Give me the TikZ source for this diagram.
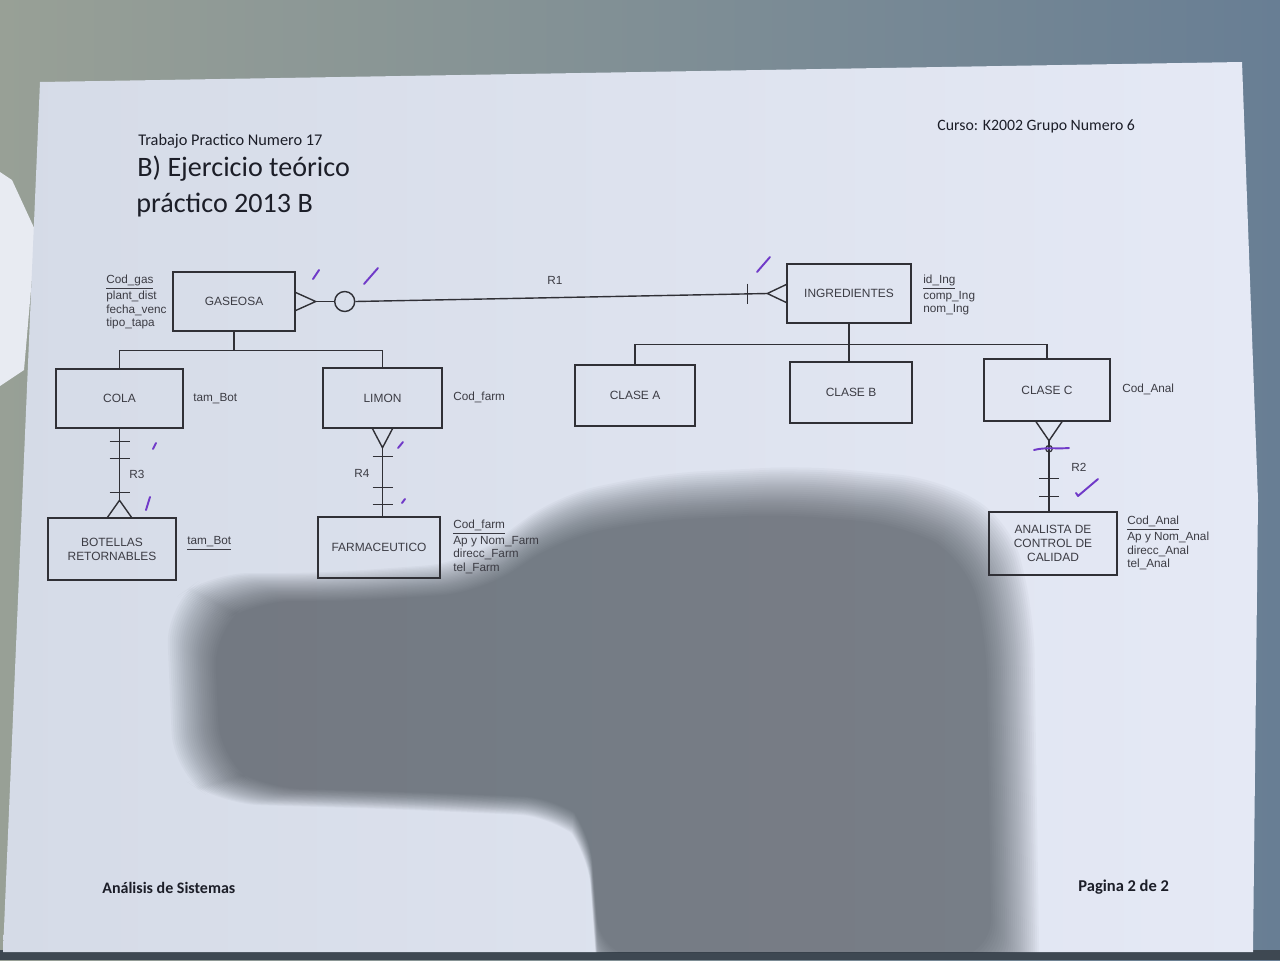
\documentclass[tikz,border=0pt]{standalone}
\usepackage{fontspec}
\setmainfont{Liberation Sans}
\newfontfamily\hdfont{Carlito}
\usetikzlibrary{calc}

\definecolor{bgL}{RGB}{152,160,150}
\definecolor{bgR}{RGB}{104,126,148}
\definecolor{paperL}{RGB}{213,219,231}
\definecolor{paperR}{RGB}{229,233,245}
\definecolor{ink}{RGB}{48,48,54}
\definecolor{txt}{RGB}{60,60,68}
\definecolor{hd}{RGB}{28,30,40}
\definecolor{pen}{RGB}{112,58,200}
\definecolor{shadowc}{RGB}{48,56,62}
\definecolor{floorc}{RGB}{62,72,82}
\definecolor{sheet}{RGB}{232,235,242}

\newcommand\dgfont{\fontsize{6.7}{7.7}\selectfont}
\newcommand\entfont{\fontsize{6.8}{8}\selectfont}

\tikzset{
  entbox/.style 2 args={draw=ink, line width=0.8pt, minimum width=#1*0.02cm,
    minimum height=#2*0.02cm, inner sep=0pt, align=center, font=\entfont, text=txt},
  attr/.style={anchor=west, inner sep=0pt, align=left, font=\dgfont, text=txt},
  rel/.style={draw=ink, line width=0.8pt},
  rlabel/.style={inner sep=0pt, font=\dgfont, text=txt},
  hdtext/.style={anchor=base west, inner sep=0pt, text=hd},
  penmark/.style={draw=pen, line width=1.1pt, line cap=round, line join=round},
}

% outline of the hand shadow, relative to (600,720)
\newcommand\shadowshape{%
  (-422,-110) -- (-380,-140) -- (-270,-140) -- (-130,-150) -- (-40,-215)
  -- (60,-235) -- (200,-242) -- (330,-230) -- (400,-190) -- (422,-100)
  -- (428,280) -- (0,280) -- (-12,120) -- (-40,92) -- (-200,85)
  -- (-370,80) -- (-415,50) -- cycle}

\begin{document}
\begin{tikzpicture}[x=0.02cm, y=-0.02cm]
\useasboundingbox (0,0) rectangle (1280,960);

% cloth underneath
\shade[left color=bgL, right color=bgR] (0,0) rectangle (1280,960);
\fill[floorc] (0,950) rectangle (1280,960);

% second sheet peeking out on the left
\fill[sheet] (0,172) -- (12,180) -- (36,232) -- (24,370) -- (0,386) -- cycle;

% the printed page
\coordinate (pA) at (40,82);
\coordinate (pB) at (1242,62);
\coordinate (pC) at (1258,500);
\coordinate (pD) at (1253,952);
\coordinate (pE) at (3,952);
\shade[left color=paperL, right color=paperR] (pA) -- (pB) -- (pC) -- (pD) -- (pE) -- cycle;

% soft shadow across the lower half of the page
\begin{scope}
  \clip (pA) -- (pB) -- (pC) -- (pD) -- (pE) -- cycle;
  \foreach \d in {12,10,...,-36}{
    \pgfmathsetmacro\sx{1+\d/425}
    \pgfmathsetmacro\sy{1+\d/240}
    \begin{scope}[shift={(600,720)}, xscale=\sx, yscale=\sy]
      \fill[shadowc, fill opacity=0.031, rounded corners=0.8cm] \shadowshape;
    \end{scope}
  }
\end{scope}

% header and footer
\node[hdtext, font=\hdfont\fontsize{9.3}{10}\selectfont] (tp) at (138,145) {Trabajo Practico Numero 17};
\node[hdtext, font=\hdfont\fontsize{16}{18}\selectfont] (t1) at (137,176) {B) Ejercicio teórico};
\node[hdtext, font=\hdfont\fontsize{16}{18}\selectfont] (t2) at (136,212) {práctico 2013 B};
\node[hdtext, font=\hdfont\fontsize{9}{10}\selectfont] (curso) at (937,130) {Curso: K2002 Grupo Numero 6};
\node[hdtext, font=\hdfont\bfseries\fontsize{9.1}{10}\selectfont] (f1) at (102,893) {Análisis de Sistemas};
\node[hdtext, font=\hdfont\bfseries\fontsize{9.4}{10}\selectfont] (f2) at (1078,891) {Pagina 2 de 2};

% entities
\node[entbox={122}{59}] (gas)   at (234,301.5) {GASEOSA};
\node[entbox={124}{59}] (ing)   at (849,293.5) {INGREDIENTES};
\node[entbox={127}{59}] (cola)  at (119.5,398.5) {COLA};
\node[entbox={119}{60}] (limon) at (382.5,398) {LIMON};
\node[entbox={120}{61}] (clA)   at (635,395.5) {CLASE A};
\node[entbox={122}{61}] (clB)   at (851,392.5) {CLASE B};
\node[entbox={126}{62}] (clC)   at (1047,390) {CLASE C};
\node[entbox={128}{62}] (bot)   at (112,549) {BOTELLAS\\RETORNABLES};
\node[entbox={122}{61}] (farm)  at (379,547.5) {FARMACEUTICO};
\node[entbox={128}{63}] (anal)  at (1053,543.5) {ANALISTA DE\\CONTROL DE\\CALIDAD};

% attributes
\node[attr] (gasat)  at (106,302) {\underline{Cod\_gas}\\plant\_dist\\fecha\_venc\\tipo\_tapa};
\node[attr] (ingat)  at (923,295) {\underline{id\_Ing}\\comp\_Ing\\nom\_Ing};
\node[attr] (colaat) at (193,399) {tam\_Bot};
\node[attr] (limat)  at (453,397) {Cod\_farm};
\node[attr] (clCat)  at (1122,389) {Cod\_Anal};
\node[attr] (botat)  at (187,543) {\underline{tam\_Bot}};
\node[attr] (farmat) at (453,547) {\underline{Cod\_farm}\\Ap y Nom\_Farm\\direcc\_Farm\\tel\_Farm};
\node[attr] (analat) at (1127,543) {\underline{Cod\_Anal}\\Ap y Nom\_Anal\\direcc\_Anal\\tel\_Anal};

% R1: GASEOSA -- INGREDIENTES
\coordinate (gcf) at ($(gas.east)+(20,0)$);
\draw[rel] ($(gas.east)+(0,-9)$) -- (gcf) -- ($(gas.east)+(0,9)$);
\node[circle, draw=ink, line width=0.8pt, minimum size=0.4cm, inner sep=0pt] (opt) at ($(gas.east)+(49,0)$) {};
\draw[rel] (gcf) -- (opt.west);
\coordinate (icf) at ($(ing.west)+(-19,0)$);
\draw[rel] ($(ing.west)+(0,-9)$) -- (icf) -- ($(ing.west)+(0,9)$);
\draw[rel] (opt.east) -- (icf);
\draw[rel] ($(ing.west)+(-39,-10)$) -- ++(0,20);
\node[rlabel] (r1) at (555,280) {R1};

% GASEOSA hierarchy
\draw[rel] (gas.south) -- ++(0,19) coordinate (gj);
\draw[rel] (cola.north) |- (gj) -| (limon.north);

% INGREDIENTES hierarchy
\draw[rel] (ing.south) -- ++(0,21) coordinate (ij);
\draw[rel] (clA.north) |- (ij) -| (clC.north);
\draw[rel] (ij) -- (ij |- clB.north);

% R3: COLA -- BOTELLAS RETORNABLES
\coordinate (r3c) at ($(cola.south |- bot.north)+(0,-17)$);
\draw[rel] (cola.south) -- (r3c);
\draw[rel] ($(r3c)+(-12,17)$) -- (r3c) -- ($(r3c)+(12,17)$);
\draw[rel] ($(cola.south)+(-10,13)$) -- ++(20,0);
\draw[rel] ($(cola.south)+(-10,30)$) -- ++(20,0);
\draw[rel] ($(r3c)+(-10,-8)$) -- ++(20,0);
\node[rlabel] (r3) at (137,474) {R3};

% R4: LIMON -- FARMACEUTICO
\coordinate (r4c) at ($(limon.south)+(0,19)$);
\draw[rel] ($(limon.south)+(-10,0)$) -- (r4c) -- ($(limon.south)+(10,0)$);
\draw[rel] (r4c) -- (r4c |- farm.north);
\draw[rel] ($(r4c |- farm.north)+(-10,-60)$) -- ++(20,0);
\draw[rel] ($(r4c |- farm.north)+(-10,-29)$) -- ++(20,0);
\draw[rel] ($(r4c |- farm.north)+(-10,-12)$) -- ++(20,0);
\node[rlabel] (r4) at (362,473) {R4};

% R2: CLASE C -- ANALISTA DE CONTROL DE CALIDAD
\coordinate (r2c) at ($(clC.south)+(2,19)$);
\draw[rel] ($(clC.south)+(-11,0)$) -- (r2c) -- ($(clC.south)+(15,0)$);
\draw[rel] (r2c) -- (r2c |- anal.north);
\node[circle, draw=ink, line width=0.7pt, minimum size=0.13cm, inner sep=0pt] (r2o) at ($(r2c)+(0,8)$) {};
\draw[rel] ($(r2c |- anal.north)+(-10,-33)$) -- ++(20,0);
\draw[rel] ($(r2c |- anal.north)+(-10,-15)$) -- ++(20,0);
\node[rlabel] (r2) at (1079,467) {R2};

% pen marks
\draw[penmark] (313,279) -- (319,270);
\draw[penmark] (364,284) -- (378,268);
\draw[penmark] (757,272) -- (770,257);
\draw[penmark] (153,449) -- (156,443);
\draw[penmark] (146,510) -- (150,497);
\draw[penmark] (398,448) -- (403,442);
\draw[penmark] (402,503) -- (405,499);
\draw[penmark] (1034,450) .. controls (1045,447) and (1058,449) .. (1069,448);
\draw[penmark] (1076,493) -- (1078,496) -- (1098,479);

\end{tikzpicture}
\end{document}
